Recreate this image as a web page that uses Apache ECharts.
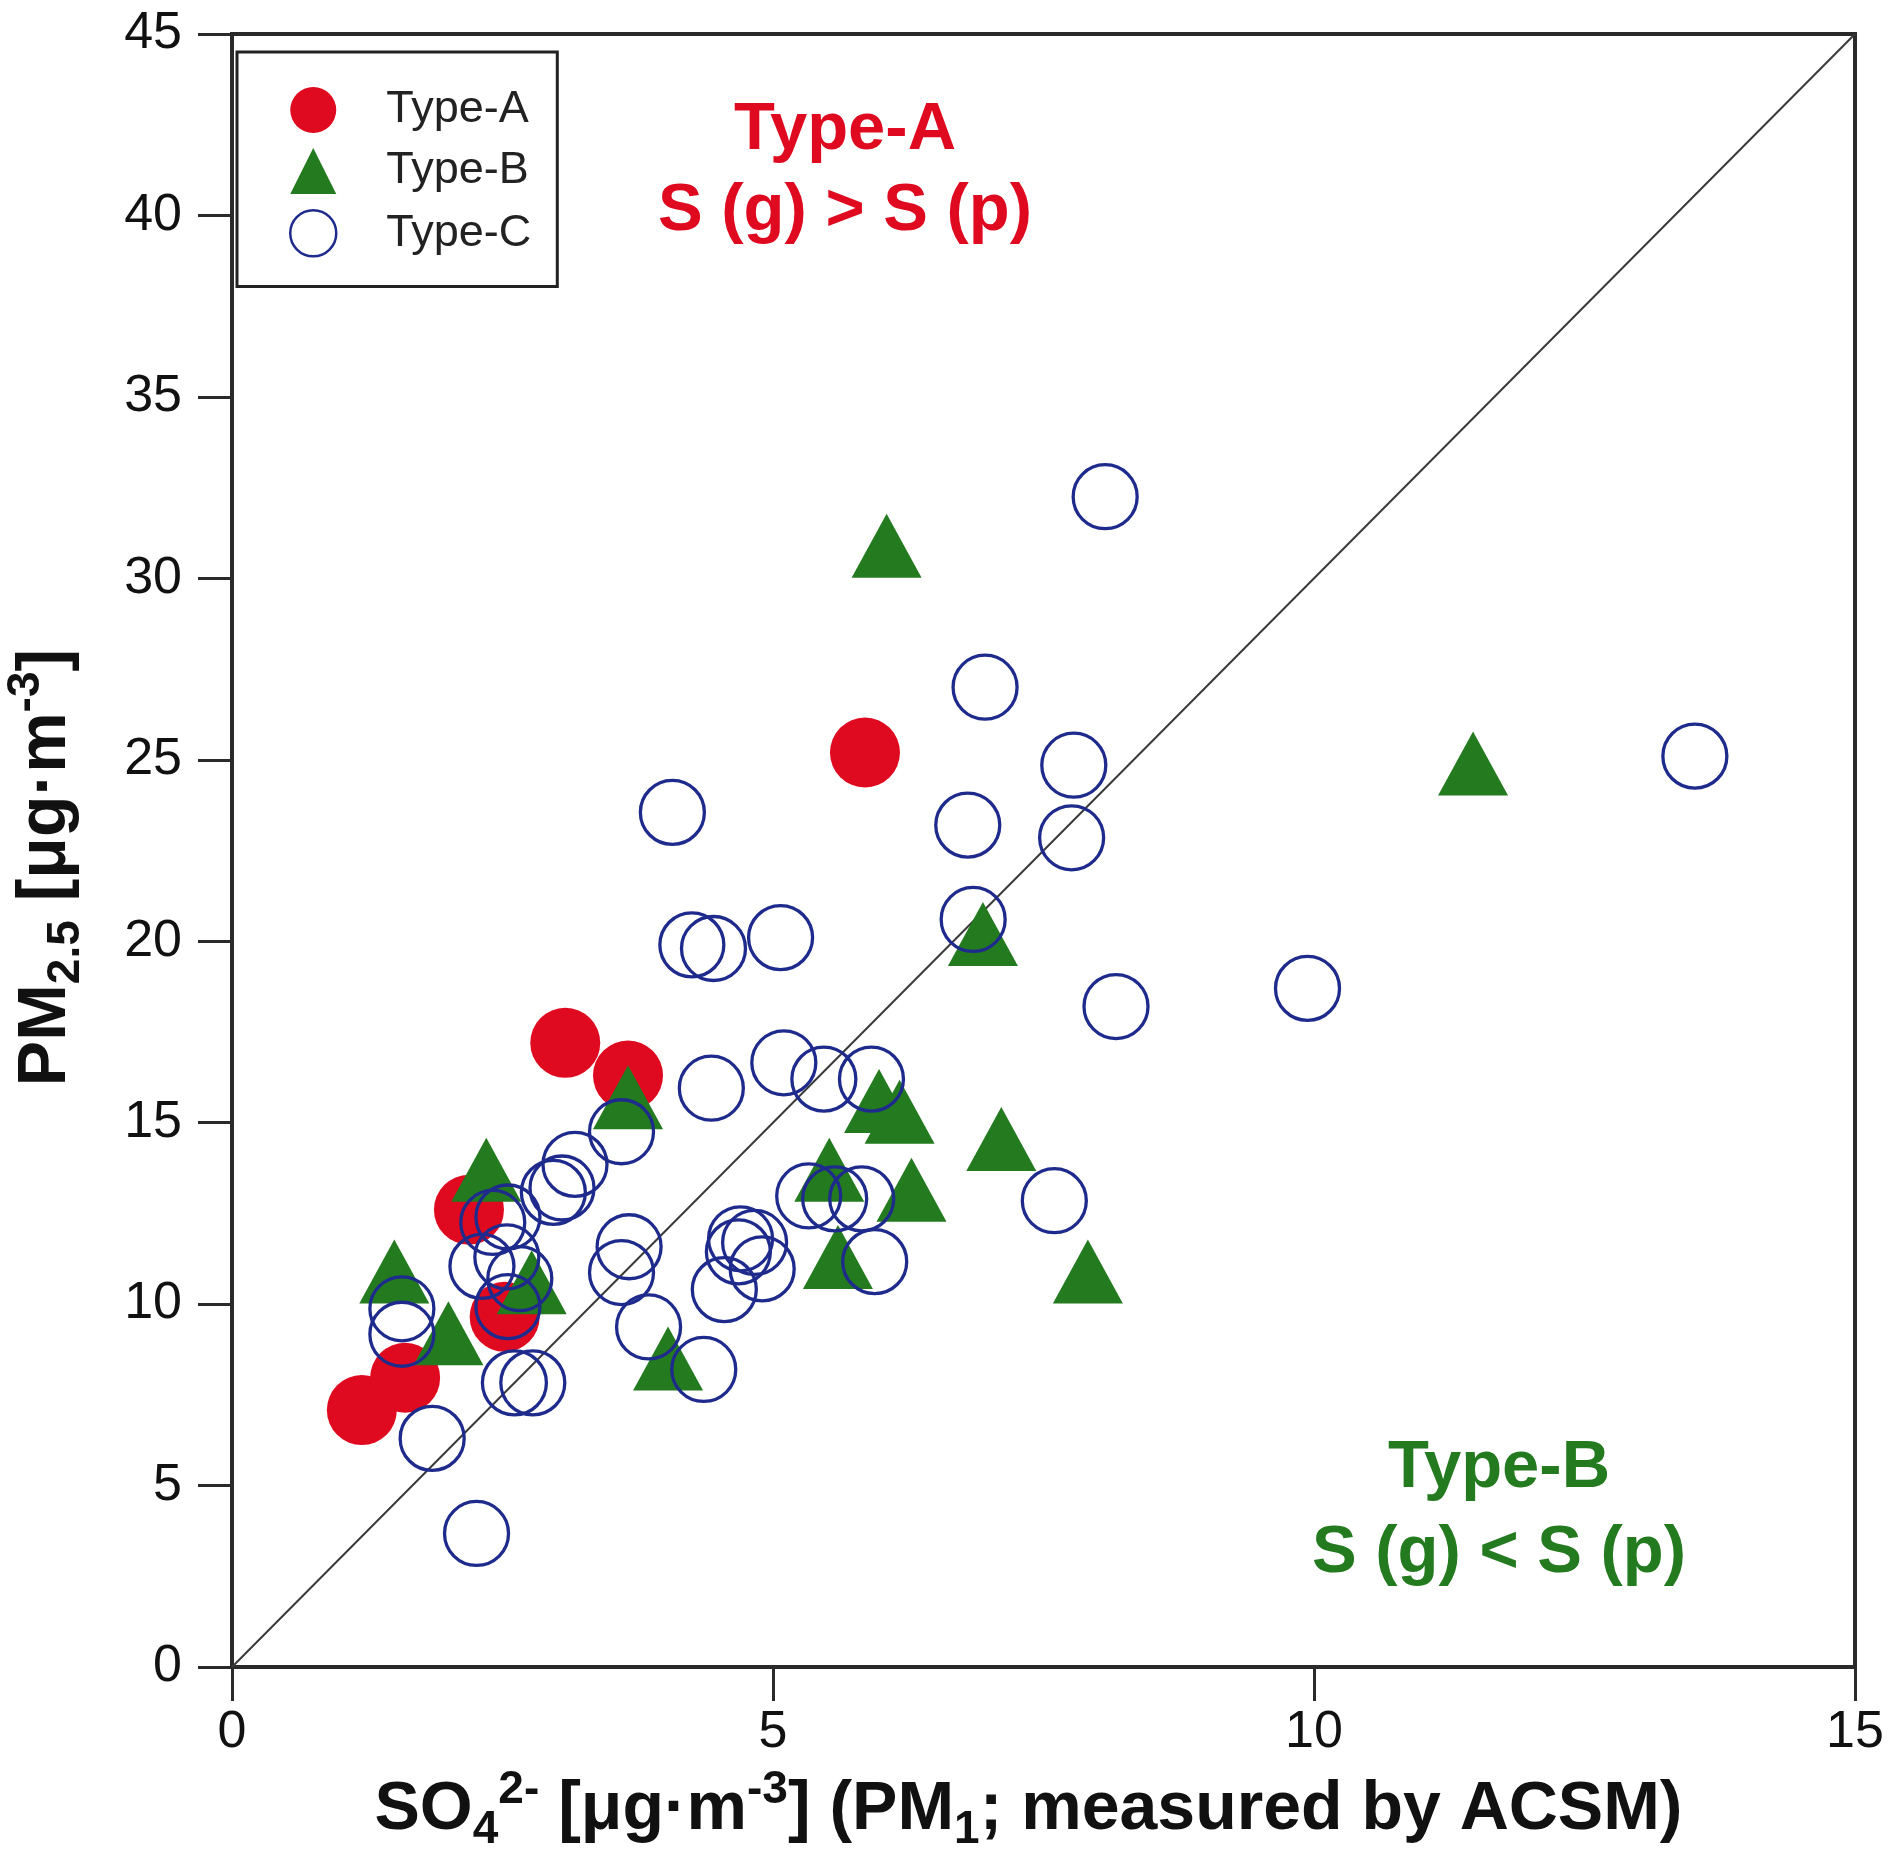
<!DOCTYPE html>
<html>
<head>
<meta charset="utf-8">
<script src="https://cdn.jsdelivr.net/npm/echarts@6/dist/echarts.min.js"></script>
<style>
html,body{margin:0;padding:0;background:#fff;}
#c{width:1900px;height:1858px;}
</style>
</head>
<body>
<div id="c"></div>
<script>
// ---- data (x: SO4 [ug/m3], y: PM2.5 [ug/m3]) ----
const seriesNames = ['Type-A', 'Type-B', 'Type-C'];
const typeA = [
  [5.85, 25.2], [3.08, 17.2], [3.66, 16.3], [2.19, 12.6], [2.52, 9.65],
  [1.2, 7.08], [1.6, 7.97]
];
const typeB = [
  [6.05, 30.9], [11.47, 24.9], [6.94, 20.2], [3.66, 15.7], [2.35, 13.7],
  [1.5, 10.9], [2.0, 9.2], [2.77, 10.6], [4.03, 8.5], [5.98, 15.6],
  [6.17, 15.3], [7.11, 14.55], [5.52, 13.7], [6.28, 13.15], [5.6, 11.3],
  [7.91, 10.9]
];
const typeC = [
  [8.07, 32.25], [6.96, 27.0], [13.52, 25.1], [4.07, 23.55], [7.78, 24.85],
  [6.8, 23.2], [7.76, 22.85], [6.85, 20.6], [4.25, 19.9], [4.45, 19.8],
  [5.07, 20.1], [9.94, 18.7], [8.17, 18.2],
  [4.43, 15.95], [5.1, 16.65], [5.47, 16.2], [5.91, 16.2], [3.6, 14.75],
  [3.17, 13.85], [2.97, 13.08], [3.05, 13.2], [2.41, 12.25], [2.55, 12.4],
  [2.31, 11.04], [2.54, 11.3], [2.66, 10.7], [2.55, 9.93],
  [5.33, 12.98], [5.57, 12.9], [5.82, 12.9], [5.94, 11.17], [7.6, 12.85],
  [3.67, 11.58], [3.6, 10.87], [3.85, 9.37], [4.36, 8.2], [4.7, 11.8],
  [4.83, 11.7], [4.55, 10.4], [4.9, 10.97], [4.68, 11.44],
  [1.57, 9.87], [1.57, 9.17], [1.85, 6.3], [2.61, 7.83], [2.78, 7.83],
  [2.26, 3.68]
];
const refLine = [[0, 0], [15, 45]];
const xRange = [0, 15, 5];   // min, max, interval
const yRange = [0, 45, 5];
const annoA = ['Type-A', 'S (g) > S (p)'];
const annoB = ['Type-B', 'S (g) < S (p)'];

// ---- styles ----
const FONT = '"Liberation Sans", Arial, Helvetica, sans-serif';
const RED = '#df0a1f', GREEN = '#237a1f', BLUE = '#1f2b8c', AX = '#2a2a2a';

const chart = echarts.init(document.getElementById('c'), null, {renderer: 'canvas'});

const nameRich = {
  b:   {fontSize: 68, fontWeight: 'bold', fontFamily: FONT, color: '#111', lineHeight: 86},
  sub: {fontSize: 46, fontWeight: 'bold', fontFamily: FONT, color: '#111', lineHeight: 86, verticalAlign: 'bottom'},
  sup: {fontSize: 46, fontWeight: 'bold', fontFamily: FONT, color: '#111', lineHeight: 86, verticalAlign: 'top'}
};

const option = {
  backgroundColor: '#fff',
  animation: false,
  grid: {left: 232, right: 45, top: 34, bottom: 191, containLabel: false, outerBoundsMode: 'none',
         show: true, borderColor: AX, borderWidth: 4, backgroundColor: 'transparent'},
  xAxis: {
    type: 'value', min: xRange[0], max: xRange[1], interval: xRange[2],
    axisLine: {show: true, onZero: false, lineStyle: {color: AX, width: 4}},
    axisTick: {show: true, inside: false, length: 34, lineStyle: {color: AX, width: 3}},
    axisLabel: {fontSize: 52, margin: 40, color: '#111', fontFamily: FONT},
    splitLine: {show: false},
    name: '{b|SO}{sub|4}{sup|2-}{b| [μg·m}{sup|-3}{b|] (PM}{sub|1}{b|; measured by ACSM)}',
    nameLocation: 'middle', nameGap: 100,
    nameTextStyle: {rich: nameRich, padding: [0, 30, 0, 0]}
  },
  yAxis: {
    type: 'value', min: yRange[0], max: yRange[1], interval: yRange[2],
    axisLine: {show: true, onZero: false, lineStyle: {color: AX, width: 4}},
    axisTick: {show: true, inside: false, length: 34, lineStyle: {color: AX, width: 3}},
    axisLabel: {fontSize: 52, margin: 50, color: '#111', fontFamily: FONT},
    splitLine: {show: false},
    name: '{b|PM}{sub|2.5}{b| [μg·m}{sup|-3}{b|]}',
    nameLocation: 'middle', nameGap: 143,
    nameTextStyle: {rich: nameRich, padding: [0, 34, 0, 0]}
  },
  legend: {
    orient: 'vertical', left: 237, top: 52,
    padding: [35, 26, 29, 52],
    itemWidth: 46, itemHeight: 46, itemGap: 15,
    borderColor: '#222', borderWidth: 3, backgroundColor: '#fff',
    textStyle: {fontSize: 45, color: '#222', fontFamily: FONT, padding: [0, 0, 0, 45]},
    data: [
      {name: seriesNames[0], icon: 'circle', itemStyle: {color: RED, borderWidth: 0}},
      {name: seriesNames[1], icon: 'triangle', itemStyle: {color: GREEN, borderWidth: 0}},
      {name: seriesNames[2], icon: 'circle', itemStyle: {color: 'rgba(0,0,0,0)', borderColor: BLUE, borderWidth: 2.5}}
    ]
  },
  series: [
    {
      type: 'line', data: refLine, symbol: 'none', silent: true, z: 1,
      lineStyle: {color: '#3a3a3a', width: 2}
    },
    {
      name: seriesNames[0], type: 'scatter', data: typeA, z: 2,
      symbol: 'circle', symbolSize: 70,
      itemStyle: {color: RED, opacity: 1}
    },
    {
      name: seriesNames[1], type: 'scatter', data: typeB, z: 3,
      symbol: 'triangle', symbolSize: [70, 64],
      itemStyle: {color: GREEN, opacity: 1}
    },
    {
      name: seriesNames[2], type: 'scatter', data: typeC, z: 4,
      symbol: 'circle', symbolSize: 64,
      itemStyle: {color: 'rgba(0,0,0,0)', borderColor: BLUE, borderWidth: 3.3, opacity: 1}
    }
  ],
  graphic: [
    {type: 'text', x: 845, y: 131, z: 10, style: {text: annoA[0], fill: RED, font: 'bold 67px ' + FONT, align: 'center', verticalAlign: 'middle'}},
    {type: 'text', x: 845, y: 212, z: 10, style: {text: annoA[1], fill: RED, font: 'bold 67px ' + FONT, align: 'center', verticalAlign: 'middle'}},
    {type: 'text', x: 1499, y: 1469, z: 10, style: {text: annoB[0], fill: GREEN, font: 'bold 67px ' + FONT, align: 'center', verticalAlign: 'middle'}},
    {type: 'text', x: 1499, y: 1554, z: 10, style: {text: annoB[1], fill: GREEN, font: 'bold 67px ' + FONT, align: 'center', verticalAlign: 'middle'}}
  ]
};
chart.setOption(option);
</script>
</body>
</html>
